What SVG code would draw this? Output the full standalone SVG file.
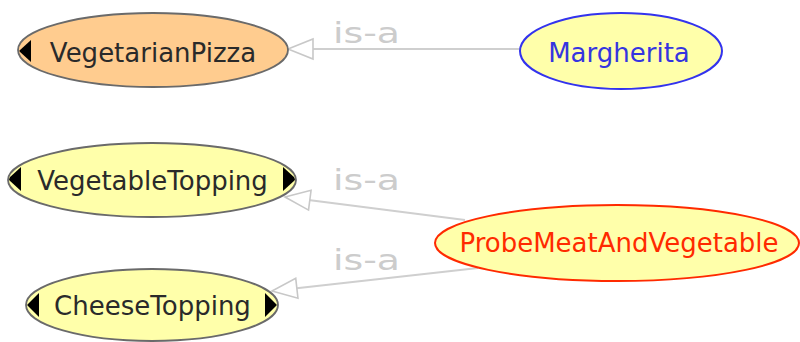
<svg xmlns="http://www.w3.org/2000/svg" width="800" height="342" viewBox="0 0 800 342">
<style>
.lbl{font-family:"DejaVu Sans","Liberation Sans",sans-serif;font-size:26px;text-anchor:middle}
.isa{font-family:"DejaVu Sans","Liberation Sans",sans-serif;font-size:28px;fill:#cccccc}
.edge{stroke:#cfcfcf;stroke-width:2;fill:none}
.gray{stroke:#6a6a6a;stroke-width:1.8}
.yel{fill:#ffffaa}
.tri{fill:#000}
</style>
<defs>
<marker id="hollow" markerUnits="userSpaceOnUse" markerWidth="30" markerHeight="24" refX="27" refY="12" orient="auto">
<path d="M27,12 L2,2 L2,22 Z" fill="#ffffff" stroke="#c8c8c8" stroke-width="1.6"/>
</marker>
<clipPath id="cVP"><ellipse cx="153" cy="50" rx="134" ry="36"/></clipPath>
<clipPath id="cVT"><ellipse cx="152" cy="180" rx="143" ry="36"/></clipPath>
<clipPath id="cCT"><ellipse cx="152" cy="305" rx="125" ry="35"/></clipPath>
</defs>
<rect width="800" height="342" fill="#ffffff"/>
<g id="connectors">
<line class="edge" x1="521" y1="49" x2="288" y2="49" marker-end="url(#hollow)"/>
<line class="edge" x1="465" y1="220" x2="285" y2="197" marker-end="url(#hollow)"/>
<line class="edge" x1="478" y1="268" x2="272" y2="291" marker-end="url(#hollow)"/>
<text class="isa" x="333" y="43" textLength="67" lengthAdjust="spacingAndGlyphs">is-a</text>
<text class="isa" x="333" y="190" textLength="67" lengthAdjust="spacingAndGlyphs">is-a</text>
<text class="isa" x="333" y="270" textLength="67" lengthAdjust="spacingAndGlyphs">is-a</text>
</g>
<g id="VegetarianPizza">
<ellipse cx="153" cy="50" rx="135" ry="37" fill="#ffcc8f" class="gray"/>
<polygon class="tri" points="19,51 31,40 31,62" clip-path="url(#cVP)"/>
<text class="lbl" x="153" y="62" fill="#2a2a2a">VegetarianPizza</text>
</g>
<g id="Margherita">
<ellipse cx="621" cy="51" rx="101" ry="38" class="yel" stroke="#3333ee" stroke-width="2"/>
<text class="lbl" x="619" y="62" fill="#3535e0">Margherita</text>
</g>
<g id="VegetableTopping">
<ellipse cx="152" cy="180" rx="144" ry="37" class="yel gray"/>
<polygon class="tri" points="8,179 21,167 21,191" clip-path="url(#cVT)"/>
<polygon class="tri" points="296,179 283,167 283,191" clip-path="url(#cVT)"/>
<text class="lbl" x="152.5" y="190" fill="#2a2a2a">VegetableTopping</text>
</g>
<g id="CheeseTopping">
<ellipse cx="152" cy="305" rx="126" ry="36" class="yel gray"/>
<polygon class="tri" points="27,305 39,293 39,317" clip-path="url(#cCT)"/>
<polygon class="tri" points="277,305 265,293 265,317" clip-path="url(#cCT)"/>
<text class="lbl" x="152.5" y="315" fill="#2a2a2a">CheeseTopping</text>
</g>
<g id="ProbeMeatAndVegetable">
<ellipse cx="617" cy="243" rx="182" ry="38" class="yel" stroke="#ff2a00" stroke-width="2"/>
<text class="lbl" x="619" y="252" fill="#ff2a00">ProbeMeatAndVegetable</text>
</g>
</svg>
